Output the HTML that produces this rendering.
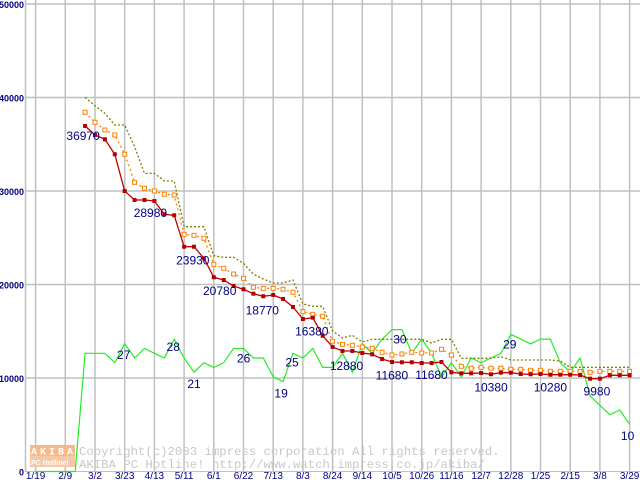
<!DOCTYPE html>
<html><head><meta charset="utf-8"><style>
html,body{margin:0;padding:0;background:#fff;}
svg{display:block;}
</style></head><body>
<svg id="chart" width="640" height="480" xmlns="http://www.w3.org/2000/svg"></svg>
<script>
const xLabels=["1/19","2/9","3/2","3/23","4/13","5/11","6/1","6/22","7/13","8/3","8/24","9/14","10/5","10/26","11/16","12/7","12/28","1/25","2/15","3/8","3/29"];
const yTicks=[0,10000,20000,30000,40000,50000];
const startWeek=5;
const minPrice=[36950,35990,35530,33930,30000,29040,29040,28930,27510,27400,24040,24040,22800,20770,20480,19840,19490,19020,18740,18880,18450,17590,16310,16450,14520,13320,12890,12890,12670,12530,12030,11710,11680,11680,11600,11600,11710,10610,10500,10500,10530,10400,10570,10570,10430,10400,10430,10350,10350,10350,10320,9930,9930,10290,10290,10290];
const avgPrice=[38420,37350,36520,35990,33930,30930,30290,30000,29650,29570,25370,25260,24940,22160,21730,21120,20660,19700,19590,19590,19490,19170,17090,16810,16600,13930,13600,13500,13320,13180,12750,12460,12570,12750,12680,12680,13070,12460,11250,11040,11140,11040,11040,10930,10930,10820,10820,10710,10710,10710,10710,10610,10710,10710,10710,10710];
const maxPrice=[40020,39100,38310,37060,37060,34740,31890,31890,31070,31070,26180,26180,26180,23080,22910,22910,22270,21100,20590,20160,20160,20480,17910,17670,17670,15030,14280,14570,13850,14140,14140,14140,14140,14140,14140,13740,14140,14140,12110,12110,12110,12110,12280,11930,11930,11930,11930,11930,11820,11140,11140,11140,11140,11140,11140,11140];
const shopCount=[0,0,0,0,0,25,25,25,23,27,24,26,25,24,28,24,21,23,22,23,26,26,24,24,20,19,25,24,26,22,22,25,21,27,25,28,30,30,25,28,25,20,23,20,24,23,24,25,29,28,27,28,28,23,21,24,16,14,12,13,10];
const priceLabels=[[startWeek,"36970",-2,14],[12,"28980",-4,16],[18,"23930",-21,-13],[19,"20780",-4,15],[23,"18770",-1,18],[28,"16380",-1,18],[31,"12880",4,19],[37,"11680",-10,17],[41,"11680",-10,17],[46,"10380",0,17],[52,"10280",0,17],[57,"9980",-3,17]];
const countLabels=[[9,"27",-1,15],[14,"28",-1,12],[16,"21",0,16],[20,"26",10,14],[25,"19",-2,16],[26,"25",-1,13],[37,"30",-2,14],[48,"29",-1,14],[60,"10",-2,16]];

const NS="http://www.w3.org/2000/svg";
const svg=document.getElementById('chart');
const X0=35.6,WEEK=9.9,Y0=471.5,PX=93.5/10000,CNT=4.73;
const xw=w=>X0+w*WEEK;
const yp=v=>Y0-v*PX;
const yc=c=>Y0-c*CNT;
function mk(tag,attrs,parent){const e=document.createElementNS(NS,tag);for(const k in attrs)e.setAttribute(k,attrs[k]);(parent||svg).appendChild(e);return e;}

const grid=mk('g',{});


yTicks.forEach(t=>{
  if(t>0){const l=mk('line',{x1:25,x2:640,y1:yp(t),y2:yp(t),stroke:'#c0c0c0','stroke-width':1.5},grid);
  
  }
  const tx=mk('text',{x:24,y:yp(t)+4,'text-anchor':'end','font-family':'Liberation Sans, sans-serif','font-size':9,'font-weight':'bold',fill:'#000080'});
  tx.textContent=t;
  
  
});
xLabels.forEach((s,i)=>{
  const x=xw(i*3);
  const l=mk('line',{x1:x,x2:x,y1:0,y2:471,stroke:'#c0c0c0','stroke-width':1.5},grid);
  
  
  const tx=mk('text',{x:x,y:479,'text-anchor':'middle','font-family':'Liberation Sans, sans-serif','font-size':10,fill:'#000080'});
  tx.textContent=s;
  
  
});
const ax=mk('line',{x1:25.5,x2:25.5,y1:0,y2:472,stroke:'#c0c0c0','stroke-width':1.5});


const bx=mk('line',{x1:25,x2:640,y1:471.5,y2:471.5,stroke:'#c0c0c0','stroke-width':1});



const wm=mk('g',{});


mk('rect',{x:30,y:445,width:45,height:11,fill:'#f8b888'},wm);
mk('rect',{x:30,y:456,width:45,height:11,fill:'#f4c8a8'},wm);
const l1=mk('text',{x:31,y:454.5,'font-family':'Liberation Mono, monospace','font-size':10,fill:'#fff','font-weight':'bold',textLength:42},wm);l1.textContent='AKIBA';
const l2=mk('text',{x:31,y:465,'font-family':'Liberation Sans, sans-serif','font-size':7,fill:'#fff','font-weight':'bold'},wm);l2.textContent='PC Hotline!';
const c1=mk('text',{x:79,y:455,'font-family':'Liberation Mono, monospace','font-size':12.3,fill:'#c8c8c8'},wm);c1.textContent='Copyright(c)2003 impress corporation All rights reserved.';
const c2=mk('text',{x:79,y:468,'font-family':'Liberation Mono, monospace','font-size':12.3,fill:'#c8c8c8'},wm);c2.textContent='AKIBA PC Hotline!  http://www.watch.impress.co.jp/akiba/';

function pts(arr,off,fy){return arr.map((v,i)=>xw(i+off).toFixed(1)+','+fy(v).toFixed(1)).join(' ');}

const g=mk('polyline',{points:pts(shopCount,0,yc),fill:'none',stroke:'#22ee22','stroke-width':1.2});



const mx=mk('polyline',{points:pts(maxPrice,startWeek,yp),fill:'none',stroke:'#808000','stroke-width':1.3,'stroke-dasharray':'2,2'});



const av=mk('polyline',{points:pts(avgPrice,startWeek,yp),fill:'none',stroke:'#ff8000','stroke-width':1.3,'stroke-dasharray':'2,3'});


avgPrice.forEach((v,i)=>{
  const r=mk('rect',{x:xw(i+startWeek)-2,y:yp(v)-2,width:4,height:4,fill:'#fff',stroke:'#ff8000','stroke-width':1});
  
  
});

const mn=mk('polyline',{points:pts(minPrice,startWeek,yp),fill:'none',stroke:'#c00000','stroke-width':1.3});


minPrice.forEach((v,i)=>{
  const r=mk('rect',{x:xw(i+startWeek)-2,y:yp(v)-2,width:4,height:4,fill:'#b00000'});
  
  
});

priceLabels.forEach(([w,s,dx,dy])=>{
  const t=mk('text',{x:xw(w)+dx,y:yp(minPrice[w-startWeek])+dy,'text-anchor':'middle','font-family':'Liberation Sans, sans-serif','font-size':12,fill:'#000080'});
  t.textContent=s;
  
  
});
countLabels.forEach(([w,s,dx,dy])=>{
  const t=mk('text',{x:xw(w)+dx,y:yc(shopCount[w])+dy,'text-anchor':'middle','font-family':'Liberation Sans, sans-serif','font-size':12,fill:'#000080'});
  t.textContent=s;
  
  
});
</script>
</body></html>
